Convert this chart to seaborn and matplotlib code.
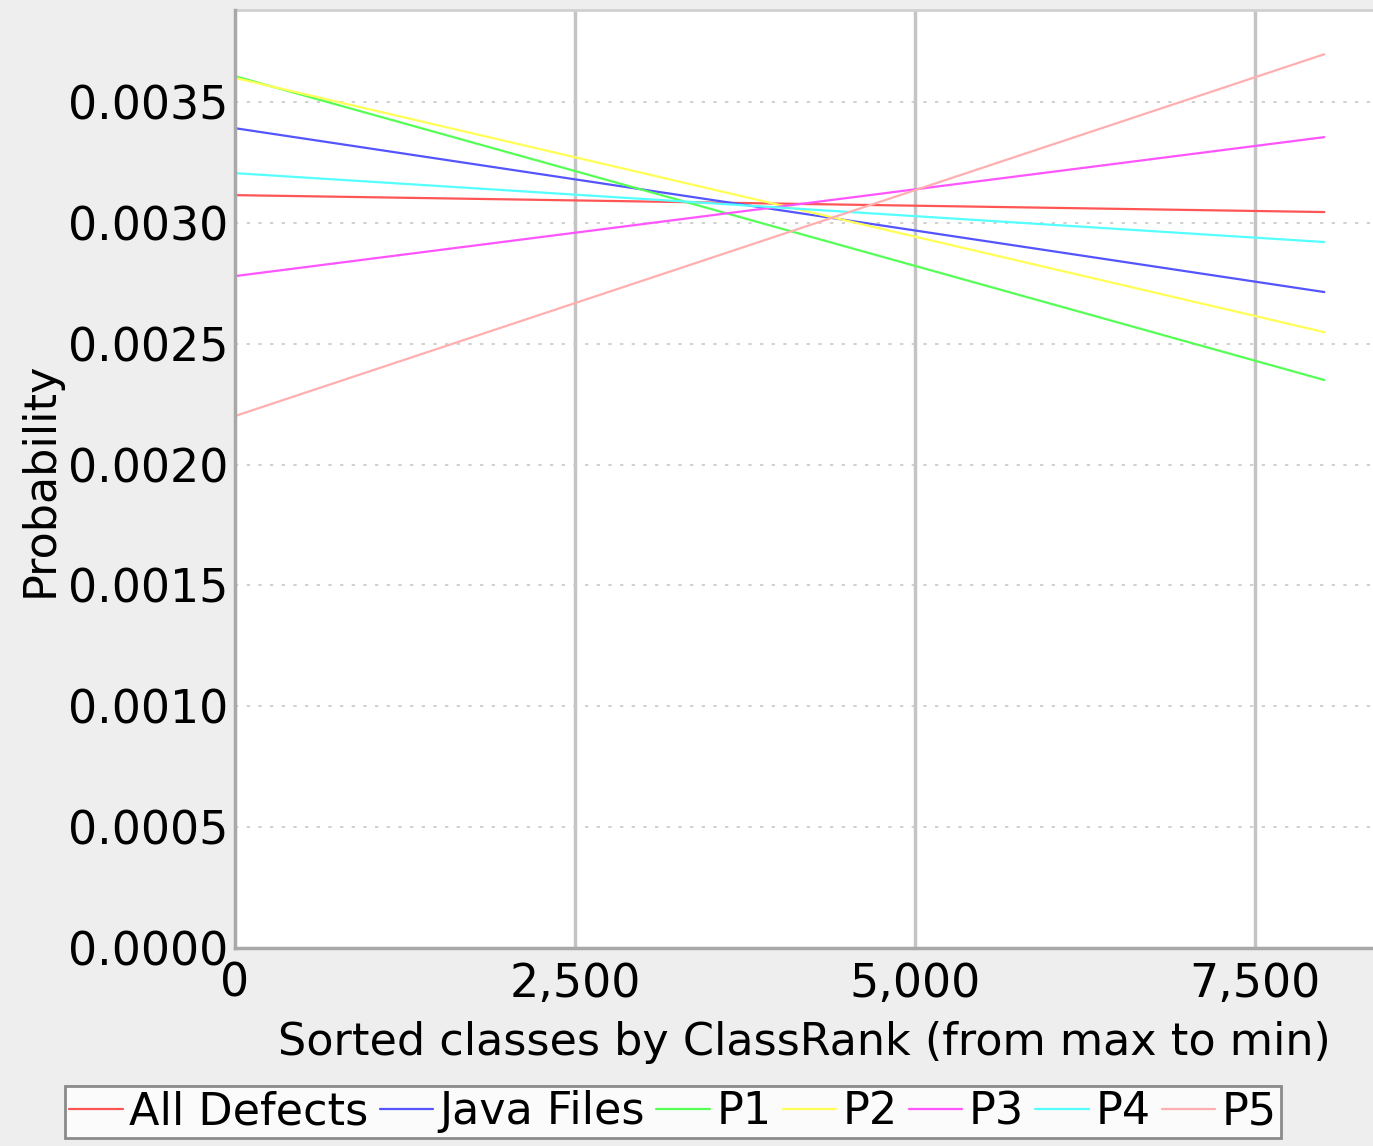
import pandas as pd
import matplotlib.pyplot as plt
import seaborn as sns

# --- data (straight trend lines, start and end) ---
series = ['All Defects', 'Java Files', 'P1', 'P2', 'P3', 'P4', 'P5']
x_start, x_end = 0, 8010
y_start = [0.003115, 0.003392, 0.003607, 0.003600, 0.002780, 0.003206, 0.002201]
y_end   = [0.003045, 0.002714, 0.002350, 0.002548, 0.003355, 0.002921, 0.003698]
colors  = ['#FF5555', '#5555FF', '#55FF55', '#FFFF55', '#FF55FF', '#55FFFF', '#FFAFAF']

rows = []
for name, a, b in zip(series, y_start, y_end):
    rows.append({'rank': x_start, 'prob': a, 'series': name})
    rows.append({'rank': x_end, 'prob': b, 'series': name})
df = pd.DataFrame(rows)

sns.set_style('white')
plt.rcParams['font.family'] = ['DejaVu Sans']
plt.rcParams['text.color'] = 'black'
plt.rcParams['axes.labelcolor'] = 'black'

fig = plt.figure(figsize=(13.73, 11.46), dpi=100, facecolor='#EEEEEE')
ax = fig.add_axes([235 / 1373, 1 - 948 / 1146, 1 - 235 / 1373, (948 - 10) / 1146])
ax.set_facecolor('white')

sns.lineplot(data=df, x='rank', y='prob', hue='series', hue_order=series,
             palette=dict(zip(series, colors)), linewidth=1.6, ax=ax,
             legend=False, estimator=None)

ax.set_xlim(0, 8368)
ax.set_ylim(0, 0.003881)
ax.set_xticks([0, 2500, 5000, 7500])
ax.set_xticklabels(['0', '2,500', '5,000', '7,500'])
yt = [i * 0.0005 for i in range(8)]
ax.set_yticks(yt)
ax.set_yticklabels([f'{v:.4f}' for v in yt])

ax.grid(False)
for xv in [2500, 5000, 7500]:
    ax.axvline(xv, color='#C4C4C4', linewidth=2.5, zorder=0)
for yv in yt[1:]:
    ax.axhline(yv, color='#C8C8C8', linewidth=1.2, linestyle=(0, (2, 5)), zorder=0)

for s in ['top', 'right']:
    ax.spines[s].set_visible(False)
for s in ['left', 'bottom']:
    ax.spines[s].set_color('#A8A8A8')
    ax.spines[s].set_linewidth(2.5)
ax.plot([0, 1], [1, 1], transform=ax.transAxes, color='#D0D0D0', lw=2, clip_on=False)

ax.tick_params(axis='both', labelsize=33, colors='#A8A8A8', labelcolor='black',
               length=4, width=1.5, direction='out')
ax.tick_params(axis='x', pad=6)
ax.tick_params(axis='y', pad=1)
ax.set_xlabel('Sorted classes by ClassRank (from max to min)', fontsize=32,
              labelpad=10, color='black')
ax.set_ylabel('Probability', fontsize=32, labelpad=4, color='black')

handles = [plt.Line2D([], [], color=c, lw=1.6) for c in colors]
leg = fig.legend(handles, series, loc='upper center', bbox_to_anchor=(673 / 1373, 1 - 1086 / 1146),
                 ncol=7, fontsize=32, frameon=True, fancybox=False, handlelength=1.2,
                 handletextpad=0.15, columnspacing=0.25, borderpad=0.1, borderaxespad=0)
leg.get_frame().set_edgecolor('#707070')
leg.get_frame().set_linewidth(2)
leg.get_frame().set_facecolor('white')
for t in leg.get_texts():
    t.set_color('black')

fig.savefig('out.png', dpi=100, facecolor=fig.get_facecolor())
